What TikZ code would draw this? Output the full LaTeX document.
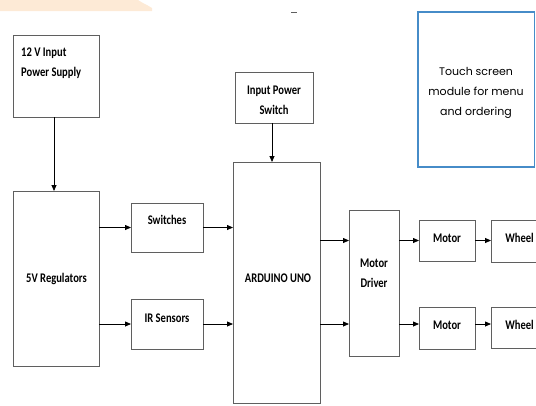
\documentclass[tikz,border=0pt]{standalone}
\usepackage{fontspec}
\setmainfont{Carlito}[FakeStretch=0.8]
\newfontfamily\touchfont{Poppins}
\usetikzlibrary{arrows.meta}
\definecolor{boxgray}{RGB}{95,95,95}
\definecolor{touchblue}{RGB}{70,140,200}
\definecolor{bandorange}{RGB}{253,234,214}
\tikzset{
  blk/.style={draw=boxgray, line width=1pt, rectangle, inner sep=0pt, outer sep=0pt},
  lbl/.style={inner sep=0pt, font=\fontsize{13.2}{20}\selectfont\bfseries},
  conn/.style={draw=black, line width=0.8pt, -{Triangle[length=6pt,width=5pt]}}
}
\begin{document}
\begin{tikzpicture}[x=1pt,y=-1pt]
\useasboundingbox (0,0) rectangle (536,405);
\clip (0,0) rectangle (536,405);
% background artifacts
\fill[bandorange] (0,0) -- (138,0) -- (143,3) -- (147,5) -- (152,8) -- (152,11) -- (0,11) -- cycle;
\draw[boxgray, line width=0.8pt] (291,12) -- (297,12);
% boxes
\node[blk, minimum width=86pt, minimum height=82pt] (ps) at (56,76) {};
\node[blk, minimum width=86pt, minimum height=175pt] (reg) at (56,278.5) {};
\node[blk, minimum width=72pt, minimum height=49pt] (sw) at (167,227.5) {};
\node[blk, minimum width=72pt, minimum height=50pt] (ir) at (167,324) {};
\node[blk, minimum width=78pt, minimum height=51pt] (ips) at (274,97.5) {};
\node[blk, minimum width=87pt, minimum height=241.5pt] (ard) at (276.5,282.75) {};
\node[blk, minimum width=50pt, minimum height=146pt] (drv) at (374,283) {};
\node[blk, minimum width=56pt, minimum height=41pt] (mot1) at (447,240.5) {};
\node[blk, minimum width=56pt, minimum height=42pt] (mot2) at (447,328) {};
\node[blk, minimum width=69pt, minimum height=42pt] (wh1) at (525.5,241) {};
\node[blk, minimum width=69pt, minimum height=41pt] (wh2) at (525.5,327.5) {};
\node[draw=touchblue, line width=1.3pt, rectangle, inner sep=0pt, minimum width=116.5pt, minimum height=155pt] (touch) at (476.25,89.5) {};
% labels
\node[lbl, align=left, anchor=west] (psT) at (21,63.5) {12 V Input\\Power Supply};
\node[lbl, anchor=base] (regT) at (56.5,282.5) {5V Regulators};
\node[lbl, anchor=base] (swT) at (167,224) {Switches};
\node[lbl, anchor=base] (irT) at (167,322) {IR Sensors};
\node[lbl, align=center] (ipsT) at (274,100) {Input Power\\Switch};
\node[lbl, anchor=base] (ardT) at (278,282.5) {ARDUINO UNO};
\node[lbl, align=center] (drvT) at (374,273) {Motor\\Driver};
\node[lbl, anchor=base] (motT1) at (447,242) {Motor};
\node[lbl, anchor=base] (motT2) at (447,329) {Motor};
\node[lbl, anchor=base] (whT1) at (519.5,242) {Wheel};
\node[lbl, anchor=base] (whT2) at (519.5,329) {Wheel};
\node[inner sep=0pt, align=center, font=\touchfont\fontsize{11}{20}\selectfont] (touchT) at (476,92.5) {Touch screen\\module for menu\\and ordering};
% connectors
\draw[conn] ([xshift=-2pt]ps.south) -- ([xshift=-2pt]ps.south |- reg.north);
\draw[conn] ([xshift=-2pt]ips.south) -- ([xshift=-2pt]ips.south |- ard.north);
\draw[conn] (reg.east |- sw.west) -- (sw.west);
\draw[conn] (reg.east |- ir.west) -- (ir.west);
\draw[conn] (sw.east) -- (ard.west |- sw.east);
\draw[conn] (ir.east) -- (ard.west |- ir.east);
\draw[conn] (ard.east |- mot1.west) -- (drv.west |- mot1.west);
\draw[conn] (ard.east |- ir.east) -- (drv.west |- ir.east);
\draw[conn] (drv.east |- mot1.west) -- (mot1.west);
\draw[conn] (drv.east |- ir.east) -- (mot2.west |- ir.east);
\draw[conn] (mot1.east) -- (wh1.west |- mot1.east);
\draw[conn] (mot2.east |- ir.east) -- (wh2.west |- ir.east);
\end{tikzpicture}
\end{document}
